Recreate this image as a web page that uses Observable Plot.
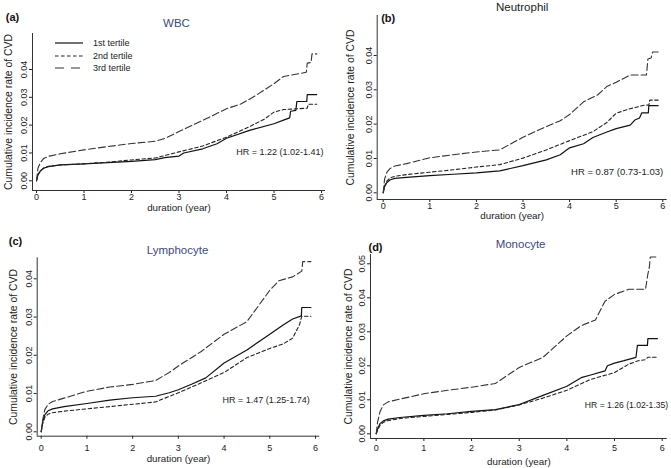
<!DOCTYPE html>
<html><head><meta charset="utf-8">
<script src="https://cdn.jsdelivr.net/npm/d3@7"></script>
<script src="https://cdn.jsdelivr.net/npm/@observablehq/plot@0.6"></script>
<style>
body{margin:0;background:#fff;font-family:"Liberation Sans",Arial,sans-serif}
#root{position:relative;width:671px;height:468px;overflow:hidden;background:#fff}
.panel{position:absolute}
.panel svg{overflow:visible}
.leg{position:absolute;font-size:9px;color:#222;white-space:nowrap}
</style></head><body><div id="root"></div>
<script>
// ---------- data (duration in years, cumulative incidence) ----------
const tertiles = ["1st tertile", "2nd tertile", "3rd tertile"];
const xTicks = [0, 1, 2, 3, 4, 5, 6];
const yTicks4 = [0, 0.01, 0.02, 0.03, 0.04];
const yTicks5 = [0, 0.01, 0.02, 0.03, 0.04, 0.05];
const panelTitles = ["WBC", "Neutrophil", "Lymphocyte", "Monocyte"];
const panelLetters = ["(a)", "(b)", "(c)", "(d)"];
const hrTexts = ["HR = 1.22 (1.02-1.41)", "HR = 0.87 (0.73-1.03)", "HR = 1.47 (1.25-1.74)", "HR = 1.26 (1.02-1.35)"];
const yLabel = "Cumulative incidence rate of CVD";
const xLabel = "duration (year)";

const wbc1 = [[0,0],[0.03,0.0022],[0.08,0.0035],[0.15,0.0045],[0.25,0.0051],[0.5,0.0057],[1,0.0061],[1.5,0.0065],[2,0.0070],[2.5,0.0076],[2.7,0.0083],[3,0.0089],[3.1,0.0100],[3.5,0.0115],[3.8,0.0133],[4,0.0153],[4.5,0.0182],[5,0.0205],[5.2,0.0218],[5.33,0.0226],[5.35,0.0250],[5.46,0.0253],[5.48,0.0285],[5.69,0.0285],[5.7,0.0310],[5.9,0.0310]];
const wbc2 = [[0,0],[0.03,0.0020],[0.08,0.0035],[0.15,0.0046],[0.25,0.0052],[0.5,0.0057],[1,0.0061],[1.5,0.0067],[2,0.0075],[2.5,0.0082],[3,0.0104],[3.5,0.0125],[4,0.0157],[4.5,0.0196],[4.8,0.0222],[5,0.0247],[5.2,0.0256],[5.7,0.0261],[5.72,0.0275],[5.9,0.0275]];
const wbc3 = [[0,0],[0.03,0.0045],[0.08,0.0065],[0.15,0.0080],[0.25,0.0088],[0.5,0.0097],[1,0.0111],[1.5,0.0123],[2,0.0134],[2.5,0.0142],[2.7,0.0152],[3,0.0177],[3.5,0.0217],[4,0.0259],[4.3,0.0276],[4.5,0.0295],[4.6,0.0305],[5,0.0349],[5.2,0.0375],[5.4,0.0381],[5.68,0.0390],[5.7,0.0423],[5.78,0.0425],[5.8,0.0456],[5.9,0.0456]];

const neu1 = [[0,0],[0.03,0.0018],[0.08,0.0030],[0.15,0.0038],[0.25,0.0042],[0.5,0.0045],[1,0.0050],[1.5,0.0054],[2,0.0058],[2.5,0.0064],[3,0.0079],[3.5,0.0096],[3.8,0.0111],[4,0.0131],[4.3,0.0143],[4.5,0.0161],[4.8,0.0177],[5,0.0187],[5.3,0.0197],[5.4,0.0212],[5.5,0.0218],[5.55,0.0233],[5.69,0.0233],[5.7,0.0254],[5.9,0.0254]];
const neu2 = [[0,0],[0.03,0.0020],[0.08,0.0035],[0.15,0.0044],[0.25,0.0048],[0.5,0.0053],[1,0.0060],[1.5,0.0067],[2,0.0075],[2.5,0.0082],[3,0.0101],[3.5,0.0125],[4,0.0152],[4.5,0.0178],[4.8,0.0205],[5,0.0232],[5.3,0.0245],[5.6,0.0255],[5.7,0.0256],[5.72,0.0270],[5.9,0.0270]];
const neu3 = [[0,0],[0.03,0.0040],[0.08,0.0060],[0.15,0.0071],[0.25,0.0078],[0.5,0.0085],[1,0.0102],[1.5,0.0111],[2,0.0119],[2.5,0.0125],[3,0.0162],[3.5,0.0193],[3.8,0.0210],[4,0.0228],[4.3,0.0265],[4.6,0.0285],[4.8,0.0310],[5,0.0322],[5.3,0.0343],[5.65,0.0343],[5.68,0.0390],[5.75,0.0393],[5.78,0.0410],[5.9,0.0410]];

const lym1 = [[0,0],[0.03,0.0025],[0.08,0.0045],[0.15,0.0055],[0.25,0.0060],[0.5,0.0066],[1,0.0074],[1.5,0.0083],[2,0.0089],[2.5,0.0093],[2.8,0.0102],[3,0.0110],[3.3,0.0125],[3.6,0.0141],[4,0.0180],[4.5,0.0214],[5,0.0255],[5.3,0.0280],[5.5,0.0295],[5.69,0.0303],[5.7,0.0325],[5.9,0.0325]];
const lym2 = [[0,0],[0.03,0.0020],[0.08,0.0038],[0.15,0.0046],[0.25,0.0050],[0.5,0.0054],[1,0.0060],[1.5,0.0066],[2,0.0072],[2.5,0.0078],[3,0.0102],[3.5,0.0128],[4,0.0155],[4.5,0.0194],[5,0.0218],[5.3,0.0230],[5.5,0.0245],[5.65,0.0280],[5.7,0.0302],[5.9,0.0302]];
const lym3 = [[0,0],[0.03,0.0030],[0.08,0.0058],[0.15,0.0072],[0.25,0.0079],[0.5,0.0088],[1,0.0106],[1.5,0.0117],[2,0.0124],[2.5,0.0134],[2.8,0.0155],[3,0.0172],[3.5,0.0210],[4,0.0255],[4.5,0.0288],[5,0.0370],[5.2,0.0395],[5.5,0.0405],[5.7,0.0420],[5.72,0.0445],[5.9,0.0445]];

const mon1 = [[0,0],[0.03,0.0015],[0.08,0.0030],[0.15,0.0038],[0.25,0.0043],[0.5,0.0048],[1,0.0054],[1.5,0.0059],[2,0.0066],[2.5,0.0071],[3,0.0086],[3.5,0.0113],[4,0.0140],[4.3,0.0165],[4.5,0.0173],[4.8,0.0185],[4.85,0.0200],[5,0.0208],[5.2,0.0215],[5.45,0.0225],[5.48,0.0260],[5.69,0.0260],[5.7,0.0280],[5.9,0.0280]];
const mon2 = [[0,0],[0.03,0.0010],[0.08,0.0025],[0.15,0.0034],[0.25,0.0039],[0.5,0.0045],[1,0.0051],[1.5,0.0057],[2,0.0063],[2.5,0.0070],[3,0.0085],[3.5,0.0105],[4,0.0128],[4.5,0.0160],[4.8,0.0172],[5,0.0180],[5.3,0.0205],[5.5,0.0215],[5.65,0.0218],[5.7,0.0225],[5.9,0.0225]];
const mon3 = [[0,0],[0.03,0.0035],[0.08,0.0065],[0.15,0.0085],[0.25,0.0094],[0.5,0.0102],[1,0.0118],[1.5,0.0128],[2,0.0137],[2.5,0.0148],[3,0.0195],[3.5,0.0225],[4,0.0288],[4.3,0.0318],[4.6,0.0335],[4.8,0.0390],[5,0.0410],[5.3,0.0425],[5.65,0.0425],[5.7,0.0470],[5.73,0.0490],[5.75,0.0520],[5.9,0.0520]];

const panelSeries = [[wbc1, wbc2, wbc3], [neu1, neu2, neu3], [lym1, lym2, lym3], [mon1, mon2, mon3]];

// ---------- layout (styles / positions) ----------
const lineStyles = [
  {stroke: "#111", strokeWidth: 1.2, strokeDasharray: null},
  {stroke: "#222", strokeWidth: 1.1, strokeDasharray: "3.5,2.5"},
  {stroke: "#333", strokeWidth: 1.1, strokeDasharray: "7,3"}
];
const layouts = [
  {left: 0, top: 0, w: 335, mL: 32, mR: 10, mT: 33, mB: 44, xPx0: 36, xPx6: 321, yPx0: 180.3, yPxTop: 69, yTop: 0.04, yTicks: yTicks4,
   titleColor: "#3d4a7c", title: {dx: -2.5, dy: -10}, letter: {dx: -20, dy: -16}, ylab: {dx: -24}, xlab: {dx: 0, dy: 17.5}, hr: {dx: -2, dy: -38, size: 9}, xPad: 0.5, yPad: 2.5},
  {left: 335, top: 0, w: 336, mL: 41.7, mR: 4.3, mT: 15, mB: 35, xPx0: 47.7, xPx6: 327.3, yPx0: 192.3, yPxTop: 55, yTop: 0.04, yTicks: yTicks4,
   titleColor: "#222", title: {dx: 0, dy: -8}, letter: {dx: 11, dy: 3}, ylab: {dx: -27}, xlab: {dx: -10, dy: 16.5}, hr: {dx: -4, dy: -28, size: 9.5}, xPad: 0, yPad: 2.5},
  {left: 0, top: 234, w: 335, mL: 36.7, mR: 15.7, mT: 23.3, mB: 32.3, xPx0: 40.7, xPx6: 315, yPx0: 197.3, yPxTop: 44.3, yTop: 0.04, yTicks: yTicks4,
   titleColor: "#3d4a7c", title: {dx: -1, dy: -7}, letter: {dx: -21.7, dy: -16.6}, ylab: {dx: -23.4}, xlab: {dx: 0, dy: 22.5}, hr: {dx: -10, dy: -35.7, size: 9}, xPad: 5, yPad: 2.5},
  {left: 335, top: 234, w: 336, mL: 35, mR: 4.3, mT: 20, mB: 30, xPx0: 40.7, xPx6: 326.7, yPx0: 199.3, yPxTop: 29.3, yTop: 0.05, yTicks: yTicks5,
   titleColor: "#3d4a7c", title: {dx: 1.7, dy: -10}, letter: {dx: 5, dy: -7.3}, ylab: {dx: -22.3}, xlab: {dx: 0, dy: 23.7}, hr: {dx: 1, dy: -33, size: 8.6}, xPad: 3, yPad: 2.5}
];

const root = document.getElementById("root");
const H = 234;

layouts.forEach((L, i) => {
  const frameL = L.mL, frameR = L.w - L.mR, frameT = L.mT, frameB = H - L.mB;
  const pxPerYear = (L.xPx6 - L.xPx0) / 6;
  const pxPerUnit = (L.yPx0 - L.yPxTop) / L.yTop;
  const xDomain = [(frameL - L.xPx0) / pxPerYear, (frameR - L.xPx0) / pxPerYear];
  const yDomain = [-(frameB - L.yPx0) / pxPerUnit, (L.yPx0 - frameT) / pxPerUnit];

  const lines = panelSeries[i].map((s, k) => Plot.line(s, {x: d => d[0], y: d => d[1], ...lineStyles[k]}));

  const chart = Plot.plot({
    width: L.w, height: H,
    marginLeft: L.mL, marginRight: L.mR, marginTop: L.mT, marginBottom: L.mB,
    style: {fontFamily: "'Liberation Sans', Arial, sans-serif", fontSize: "9px", color: "#222", background: "transparent", overflow: "visible"},
    x: {domain: xDomain},
    y: {domain: yDomain},
    marks: [
      Plot.axisX({ticks: xTicks, tickSize: 3, tickPadding: L.xPad, tickFormat: d => String(d), label: null, fontSize: 9}),
      Plot.axisY({ticks: L.yTicks, tickSize: 3, tickPadding: L.yPad, tickRotate: -90, tickFormat: d3.format(".2f"), label: null, fontSize: 9}),
      Plot.ruleX([xDomain[0]], {stroke: "#333", strokeWidth: 1}),
      Plot.ruleY([yDomain[0]], {stroke: "#333", strokeWidth: 1}),
      ...lines,
      Plot.text([panelTitles[i]], {text: d => d, frameAnchor: "top", dx: L.title.dx, dy: L.title.dy, fontSize: 11.5, fill: L.titleColor, lineAnchor: "middle"}),
      Plot.text([panelLetters[i]], {text: d => d, frameAnchor: "top-left", dx: L.letter.dx, dy: L.letter.dy, fontSize: 11, fontWeight: "bold", fill: "#111", textAnchor: "middle", lineAnchor: "middle"}),
      Plot.text([yLabel], {text: d => d, frameAnchor: "left", dx: L.ylab.dx, rotate: -90, fontSize: 10.4, fill: "#222", textAnchor: "middle", lineAnchor: "middle"}),
      Plot.text([xLabel], {text: d => d, frameAnchor: "bottom", dx: L.xlab.dx, dy: L.xlab.dy, fontSize: 9.8, fill: "#222", textAnchor: "middle", lineAnchor: "middle"}),
      Plot.text([hrTexts[i]], {text: d => d, frameAnchor: "bottom-right", dx: L.hr.dx, dy: L.hr.dy, fontSize: L.hr.size, fill: "#222", textAnchor: "end", lineAnchor: "middle"})
    ]
  });
  const div = document.createElement("div");
  div.className = "panel";
  div.style.left = L.left + "px";
  div.style.top = L.top + "px";
  div.appendChild(chart);
  root.appendChild(div);
});

// legend (panel a)
const legRows = [43, 55.5, 68];
tertiles.forEach((name, k) => {
  const row = document.createElement("div");
  row.className = "leg";
  row.style.left = "55px";
  row.style.top = (legRows[k] - 6) + "px";
  const st = lineStyles[k];
  const dash = k === 2 ? "9,7" : (st.strokeDasharray || "");
  row.innerHTML = `<svg width="30" height="12" style="vertical-align:middle;overflow:visible"><line x1="0" x2="28" y1="6" y2="6" stroke="${st.stroke}" stroke-width="1.2" ${dash ? `stroke-dasharray="${dash}"` : ""}/></svg><span style="position:absolute;left:38px;top:0;line-height:12px">${name}</span>`;
  root.appendChild(row);
});
</script></body></html>
